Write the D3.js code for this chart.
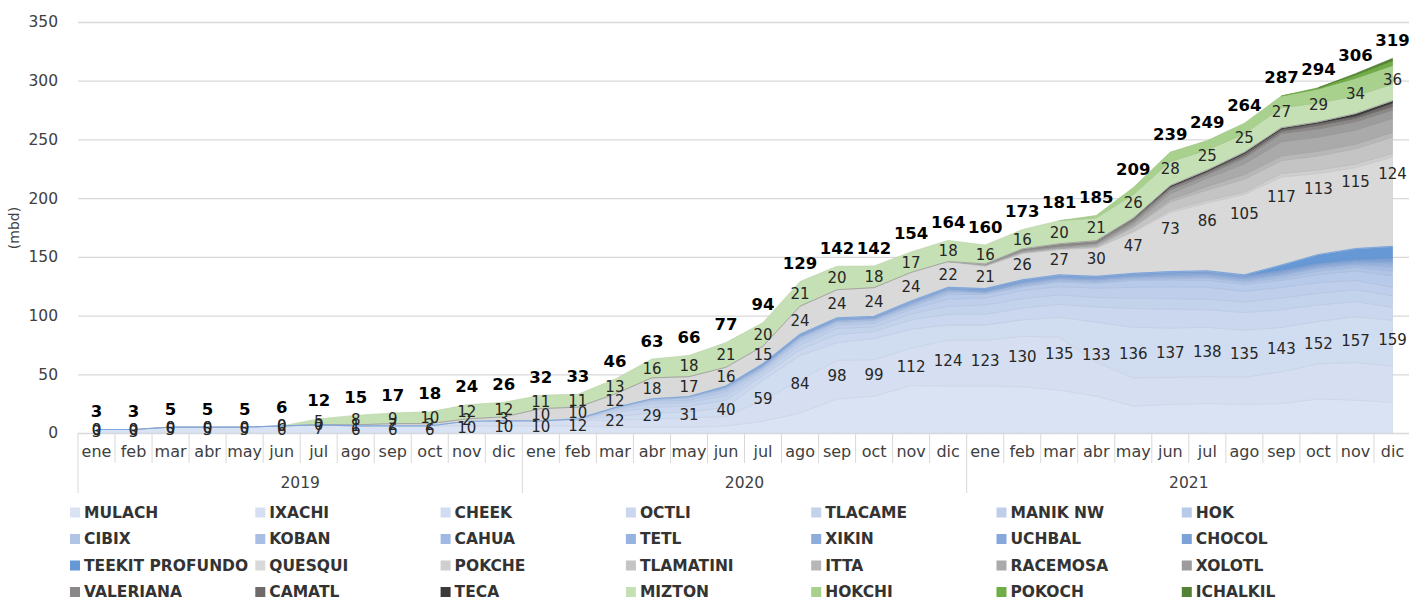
<!DOCTYPE html>
<html>
<head>
<meta charset="utf-8">
<script src="https://cdn.jsdelivr.net/npm/d3@7"></script>
<style>
  body { margin: 0; background: #fff; }
  text { font-family: "DejaVu Sans", sans-serif; }
</style>
</head>
<body>
<svg id="chart" width="1409" height="600"></svg>
<script>
// categories
var months = ["ene", "feb", "mar", "abr", "may", "jun", "jul", "ago", "sep", "oct", "nov", "dic"];
var years = ["2019", "2020", "2021"];
var yTicks = [0, 50, 100, 150, 200, 250, 300, 350];

// blue fields (bottom of the stack)
var blueFields = ["MULACH", "IXACHI", "CHEEK", "OCTLI", "TLACAME", "MANIK NW", "HOK", "CIBIX",
    "KOBAN", "CAHUA", "TETL", "XIKIN", "UCHBAL", "CHOCOL", "TEEKIT PROFUNDO"];
var blueColors = ["#dae3f3", "#d5dff1", "#d0dcf0", "#cad7ee", "#c4d3ec", "#bfcfeb", "#b8cae9", "#b0c4e6",
    "#a8bee4", "#a0b9e2", "#97b3df", "#8eaddd", "#86a8db", "#7ca2d8", "#6598d5"];
var blueValues = [
    [3,3,5,5,5,6,7,6,6,6,6,6, 6,6,5,5,5,6,10,17,29,31.4,40.4,40, 40,39.4,36.6,31.4,23,24.4,25,24.6,25,29,28,26],
    [0,0,0,0,0,0,0,0,0,0,4,4.3, 4.4,5,6,7,8,8,18,28,33,31,32,39, 39,43,45,29,24,23,23,23,27,30,32,31],
    [0,0,0,0,0,0,0,0,0,0,0,0, 0,1,3,5,5,8,17,21,15,18,16,13, 13,14,17,34,43,42,42,40,38,36,39,39],
    [0,0,0,0,0,0,0,0,0,0,0,0, 0,0,3.6,5,5,6,4,5,7,6,8,9, 9,10,11,13,16,16,15,15,15,14,13,11],
    [0,0,0,0,0,0,0,0,0,0,0,0, 0,0,2,3,3,4,3,4,5,4,5,7, 8,8,8,8,9,9,9,9,10,10,10,10],
    [0,0,0,0,0,0,0,0,0,0,0,0, 0,0,1,2,2,3,2,3,3,3,4,6, 6,7,7,8,9,10,10,9,9,9,8,7],
    [0,0,0,0,0,0,0,0,0,0,0,0, 0,0,1,1,2,2,1,2,2,2,2,4, 3,3,4,4,6,6,6,6,6,7,8,10],
    [0,0,0,0,0,0,0,0,0,0,0,0, 0,0,0,1,1,1,1,1,1,1,1,2, 1,1,1,1,1,1,2,2,2,3,3,4],
    [0,0,0,0,0,0,0,0,0,0,0,0, 0,0,0,0,0,1,1,1,1,1,1,1, 1,1,1,1,1,1,1,1,2,2,2,3],
    [0,0,0,0,0,0,0,0,0,0,0,0, 0,0,0,0,0,0,0,0,0,0,1,1, 0,1,1,1,1,1,1,1,1,1,1,2],
    [0,0,0,0,0,0,0,0,0,0,0,0, 0,0,0,0,0,0,0,0,0,0,0,0, 0,0,0,0,0,1,1,1,1,1,1,2],
    [0,0,0,0,0,0,0,0,0,0,0,0, 0,0,0,0,0,1,1,1,1,1,1,1, 1,1,1,1,1,1,1,1,1,1,1,1],
    [0,0,0,0,0,0,0,0,0,0,0,0, 0,0,0,0,0,0,1,1,1,1,1,1, 1,1,1,1,1,1,1,1,1,1,1,1],
    [0,0,0,0,0,0,0,0,0,0,0,0, 0,0,0,0,0,0,0,0,0,0,0,0, 1,1,1,1,1,1,1,1,1,1,1,2],
    [0,0,0,0,0,0,0,0,0,0,0,0, 0,0,0,0,0,0,0,0,0,0,0,0, 0,0,0,0,0,0,0,0,4,7,9,10]
];

// gray fields
var grayFields = ["QUESQUI", "POKCHE", "TLAMATINI", "ITTA", "RACEMOSA", "XOLOTL", "VALERIANA", "CAMATL", "TECA"];
var grayColors = ["#d9d9d9", "#cfcfcf", "#c4c4c4", "#b7b7b7", "#aaaaaa", "#9c9c9c", "#8b8787", "#6e6a6a", "#3a3a3a"];
var grayValues = [
    [0,0,0,0,0,0,0,1,2,2,2,3.4, 10.4,10,11.6,18,17,16,15,24,24,24.4,24.4,22, 19,22.4,21.6,24.4,35,50.4,58,68.6,75,69,69,76],
    [0,0,0,0,0,0,0,0,0,0,0,0, 0,0,0,0,0,0,0,0,0,0,0,0, 0,0,0,0,1,2,2,2,3,3,3,3],
    [0,0,0,0,0,0,0,0,0,0,0,0, 0,0,0,0,0,0,0,0,0,0,0,0, 1,1,1,1,3,7,9,11,11,12,13,14],
    [0,0,0,0,0,0,0,0,0,0,0,0, 0,0,0,0,0,0,0,0,0,0,0,0, 0,0,0,1,1,2,3,4,4,4,4,4],
    [0,0,0,0,0,0,0,0,0,0,0,0, 0,0,0,0,0,0,0,0,0,0,0,0, 0,1,1,1,2,5,7,9,12,12,12,12],
    [0,0,0,0,0,0,0,0,0,0,0,0, 0,0,0,0,0,0,0,0,0,0,0,0, 1,1,1,1,2,3,3,5,7,7,7,7],
    [0,0,0,0,0,0,0,0,0,0,0,0, 0,0,0,0,0,0,0,0,0,0,0,0, 0,1,2,2,2,2,2,2,2,3,3,3],
    [0,0,0,0,0,0,0,0,0,0,0,0, 0,0,0,0,0,0,0,0,0,0,0,0, 0,0,0,0,1,1,1,2,2,2,2,3],
    [0,0,0,0,0,0,0,0,0,0,0,0, 0,0,0,0,0,0,0,0,0,0,0,0, 0,0,0,0,0,1,1,1,1,1,2,2]
];

// green fields (top of the stack)
var greenFields = ["MIZTON", "HOKCHI", "POKOCH", "ICHALKIL"];
var greenColors = ["#c5e0b4", "#a9d18e", "#70ad47", "#548235"];
var greenValues = [
    [0,0,0,0,0,0,5,8,9,10,12,12.4, 11.4,11,12.6,16,18,21,20,21,20,18.4,17.4,18, 16,16.4,19.6,19.4,20,20.4,17,15.6,17,16,15,14],
    [0,0,0,0,0,0,0,0,0,0,0,0, 0,0,0,0,0,0,0,0,0,0,0,0, 0,0,0,2,6,8,8,9,10,12,15,16],
    [0,0,0,0,0,0,0,0,0,0,0,0, 0,0,0,0,0,0,0,0,0,0,0,0, 0,0,0,0,0,0,0,0,0,1,3,4],
    [0,0,0,0,0,0,0,0,0,0,0,0, 0,0,0,0,0,0,0,0,0,0,0,0, 0,0,0,0,0,0,0,0,0,0,1,2]
];

var chartWidth = 1409,
    plotLeft = 78,
    plotRight = 1411,
    plotTop = 22,
    plotBottom = 433;

var fields = blueFields.concat(grayFields, greenFields);
var colors = blueColors.concat(grayColors, greenColors);
var values = blueValues.concat(grayValues, greenValues);
var n = months.length * years.length;

var svg = d3.select('#chart');

var x = d3.scaleBand()
    .domain(d3.range(n))
    .range([plotLeft, plotRight]);
var bw = x.bandwidth();
function xc(i) { return x(i) + bw / 2; }

var y = d3.scaleLinear()
    .domain([0, 350])
    .range([plotBottom, plotTop]);

//gridlines
svg.append('g')
    .attr('transform', 'translate(' + plotLeft + ',0)')
    .call(d3.axisLeft(y).tickValues(yTicks).tickSize(-(chartWidth - plotLeft)).tickFormat(''))
    .call(function (g) {
        g.select('.domain').remove();
        g.selectAll('line').attr('stroke', '#d9d9d9').attr('stroke-width', 1.3);
    });

//y labels
svg.append('g')
    .attr('transform', 'translate(' + plotLeft + ',0)')
    .call(d3.axisLeft(y).tickValues(yTicks).tickSize(0).tickPadding(20))
    .call(function (g) {
        g.select('.domain').remove();
        g.selectAll('text').attr('font-size', 15.5).attr('fill', '#404040')
            .style('font-family', '"DejaVu Sans", sans-serif');
    });

svg.append('text')
    .attr('transform', 'translate(19,228) rotate(-90)')
    .attr('text-anchor', 'middle')
    .attr('font-size', 14)
    .attr('fill', '#404040')
    .text('(mbd)');

//stacked areas
var rows = d3.range(n).map(function (i) {
    var r = {};
    fields.forEach(function (f, k) { r[f] = values[k][i]; });
    return r;
});
var series = d3.stack().keys(fields)(rows);

var areaG = svg.append('g');
series.forEach(function (s, k) {
    var v = values[k];
    var show = function (i) {
        return v[i] > 0 || (i > 0 && v[i - 1] > 0) || (i < n - 1 && v[i + 1] > 0);
    };
    var area = d3.area()
        .defined(function (d, i) { return show(i); })
        .x(function (d, i) { return xc(i); })
        .y0(function (d) { return y(d[0]); })
        .y1(function (d) { return y(d[1]); });
    areaG.append('path')
        .attr('d', area(s))
        .attr('fill', colors[k])
        .attr('stroke', d3.color(colors[k]).darker(0.15))
        .attr('stroke-width', 0.7);
});

//group sums
var blueSum = d3.range(n).map(function (i) { return d3.sum(blueValues, function (v) { return v[i]; }); });
var graySum = d3.range(n).map(function (i) { return d3.sum(grayValues, function (v) { return v[i]; }); });
var greenSum = d3.range(n).map(function (i) { return d3.sum(greenValues, function (v) { return v[i]; }); });

var edge = d3.line()
    .x(function (d, i) { return xc(i); })
    .y(function (d) { return y(d); });

svg.append('path')
    .attr('d', edge(d3.range(n).map(function (i) { return blueSum[i] + graySum[i]; })))
    .attr('fill', 'none')
    .attr('stroke', '#a6a6a6')
    .attr('stroke-width', 1);
svg.append('path')
    .attr('d', edge(blueSum))
    .attr('fill', 'none')
    .attr('stroke', '#7fa7dc')
    .attr('stroke-width', 1.2);

//data labels
var labelG = svg.append('g')
    .attr('text-anchor', 'middle')
    .attr('font-size', 15)
    .attr('fill', '#262626');

d3.range(n).forEach(function (i) {
    var b = blueSum[i], g = graySum[i], gr = greenSum[i];
    labelG.append('text').attr('x', xc(i)).attr('y', y(b / 2)).attr('dy', '0.36em')
        .text(Math.round(b));
    labelG.append('text').attr('x', xc(i)).attr('y', y(b + g / 2)).attr('dy', '0.36em')
        .text(Math.round(g));
    labelG.append('text').attr('x', xc(i)).attr('y', y(b + g + gr / 2)).attr('dy', '0.36em')
        .text(Math.round(gr));
    labelG.append('text').attr('x', xc(i)).attr('y', y(b + g + gr) - 12.5)
        .attr('font-weight', 'bold')
        .attr('font-size', 16.5)
        .attr('fill', '#000')
        .text(Math.round(b + g + gr));
});

//month axis
svg.append('g')
    .attr('transform', 'translate(0,' + plotBottom + ')')
    .call(d3.axisBottom(x).tickSize(0).tickPadding(13).tickFormat(function (i) { return months[i % 12]; }))
    .call(function (g) {
        g.select('.domain').remove();
        g.selectAll('text').attr('font-size', 16).attr('fill', '#404040')
            .style('font-family', '"DejaVu Sans", sans-serif');
    });

//category separators
var sepG = svg.append('g').attr('stroke', '#d9d9d9').attr('stroke-width', 1);
d3.range(n + 1).forEach(function (i) {
    var xx = i < n ? x(i) : plotRight;
    var yearEdge = i % 12 === 0;
    sepG.append('line')
        .attr('x1', xx).attr('x2', xx)
        .attr('y1', plotBottom).attr('y2', yearEdge ? 493 : 463);
});

//year labels
years.forEach(function (yr, j) {
    svg.append('text')
        .attr('x', (x(j * 12) + x(j * 12 + 11) + bw) / 2)
        .attr('y', 488)
        .attr('text-anchor', 'middle')
        .attr('font-size', 15.5)
        .attr('fill', '#404040')
        .text(yr);
});

//legend
var legend = svg.append('g');
fields.forEach(function (f, k) {
    var col = k % 7, row = Math.floor(k / 7);
    var lx = 70 + col * 185.3,
        ly = 512.5 + row * 26.5;
    legend.append('rect')
        .attr('x', lx).attr('y', ly - 5)
        .attr('width', 10).attr('height', 10)
        .attr('fill', colors[k]);
    legend.append('text')
        .attr('x', lx + 14).attr('y', ly).attr('dy', '0.35em')
        .attr('font-size', 15.5)
        .attr('font-weight', 'bold')
        .attr('fill', '#333333')
        .text(f);
});
</script>
</body>
</html>
